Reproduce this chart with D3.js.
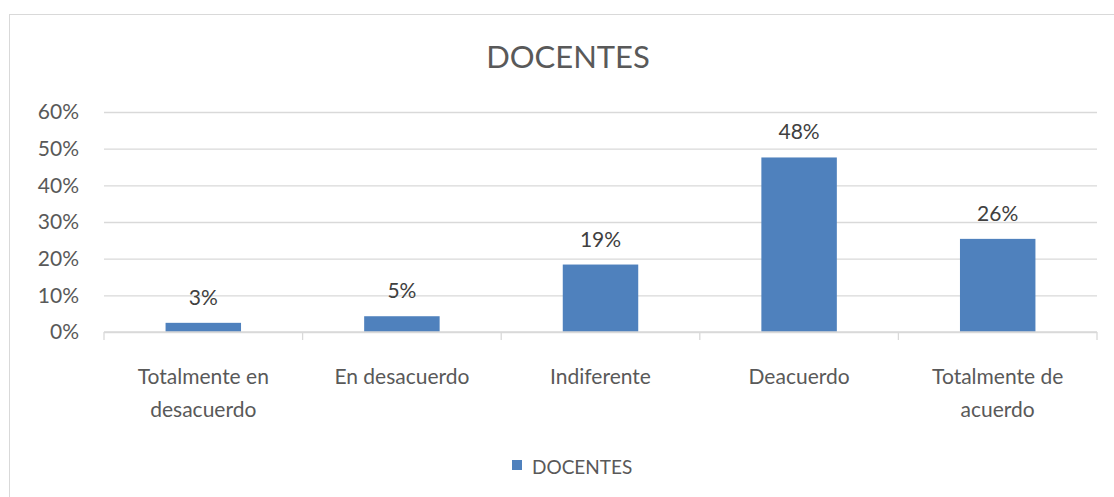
<!DOCTYPE html>
<html>
<head>
<meta charset="utf-8">
<script src="https://cdn.jsdelivr.net/npm/d3@7/dist/d3.min.js"></script>
<style>
  html, body { margin: 0; padding: 0; background: #fff; }
  svg text { font-family: Lato, "Open Sans", sans-serif; }
</style>
</head>
<body>
<div id="chart"></div>
<script>
// data
const categories = [
  ['Totalmente en', 'desacuerdo'],
  ['En desacuerdo'],
  ['Indiferente'],
  ['Deacuerdo'],
  ['Totalmente de', 'acuerdo']
]
const values = [0.025, 0.043, 0.184, 0.476, 0.254]
const valueLabels = ['3%', '5%', '19%', '48%', '26%']
const yTicks = [0, 0.1, 0.2, 0.3, 0.4, 0.5, 0.6]
const seriesName = 'DOCENTES'

const width = 1114
const height = 497
const padding = { top: 112, right: 17, bottom: 165, left: 104 }
const barColor = '#4f81bd'
const gridColor = '#d9d9d9'
const textColor = '#595959'

const svg = d3.select('#chart').append('svg')
  .attr('width', width)
  .attr('height', height)

// chart frame
svg.append('rect')
  .attr('x', 9.5).attr('y', 14.5)
  .attr('width', width - 9).attr('height', height)
  .attr('fill', 'none')
  .attr('stroke', gridColor)

const x = d3.scaleBand()
  .domain(d3.range(categories.length))
  .range([padding.left, width - padding.right])
  .paddingInner(0.62)
  .paddingOuter(0.31)

const y = d3.scaleLinear()
  .domain([0, 0.6])
  .range([height - padding.bottom, padding.top])

// gridlines + y labels
const yAxis = svg.append('g')
  .attr('transform', `translate(${padding.left},0)`)
  .call(d3.axisLeft(y)
    .tickValues(yTicks)
    .tickFormat(d3.format('.0%'))
    .tickSize(-(width - padding.left - padding.right))
    .tickPadding(25))
yAxis.select('.domain').remove()
yAxis.selectAll('.tick line')
  .attr('stroke', gridColor)
  .attr('stroke-width', 1.3)
yAxis.selectAll('.tick text')
  .attr('fill', textColor)
  .attr('font-size', 21)

// bars
svg.selectAll('rect.bar')
  .data(values)
  .enter()
  .append('rect')
  .attr('class', 'bar')
  .attr('x', (d, i) => x(i))
  .attr('y', d => y(d))
  .attr('width', x.bandwidth())
  .attr('height', d => y(0) - y(d))
  .attr('fill', barColor)

// data labels
svg.selectAll('text.value')
  .data(values)
  .enter()
  .append('text')
  .attr('class', 'value')
  .attr('x', (d, i) => x(i) + x.bandwidth() / 2)
  .attr('y', d => y(d) - 18)
  .attr('text-anchor', 'middle')
  .attr('fill', '#404040')
  .attr('font-size', 21)
  .text((d, i) => valueLabels[i])

// x axis with boundary ticks
const xStart = padding.left
const colWidth = (width - padding.left - padding.right) / categories.length
svg.append('line')
  .attr('x1', xStart).attr('x2', width - padding.right)
  .attr('y1', y(0)).attr('y2', y(0))
  .attr('stroke', gridColor)
  .attr('stroke-width', 1.3)
svg.selectAll('line.xtick')
  .data(d3.range(categories.length + 1))
  .enter()
  .append('line')
  .attr('class', 'xtick')
  .attr('x1', i => xStart + i * colWidth)
  .attr('x2', i => xStart + i * colWidth)
  .attr('y1', y(0))
  .attr('y2', y(0) + 8)
  .attr('stroke', gridColor)
  .attr('stroke-width', 1.3)

const xLabels = svg.selectAll('text.cat')
  .data(categories)
  .enter()
  .append('text')
  .attr('class', 'cat')
  .attr('text-anchor', 'middle')
  .attr('fill', textColor)
  .attr('font-size', 21)
xLabels.selectAll('tspan')
  .data((d, i) => d.map(t => ({ t, i })))
  .enter()
  .append('tspan')
  .attr('x', d => x(d.i) + x.bandwidth() / 2)
  .attr('y', (d, j) => 384 + j * 33)
  .text(d => d.t)

// title
svg.append('text')
  .attr('x', 568)
  .attr('y', 68)
  .attr('text-anchor', 'middle')
  .attr('fill', textColor)
  .attr('font-size', 31)
  .text(seriesName)

// legend
const legend = svg.append('g').attr('transform', 'translate(512,460)')
legend.append('rect')
  .attr('width', 10).attr('height', 10)
  .attr('fill', barColor)
legend.append('text')
  .attr('x', 20).attr('y', 12)
  .attr('dy', '0.1em')
  .attr('fill', textColor)
  .attr('font-size', 19)
  .text(seriesName)
</script>
</body>
</html>
